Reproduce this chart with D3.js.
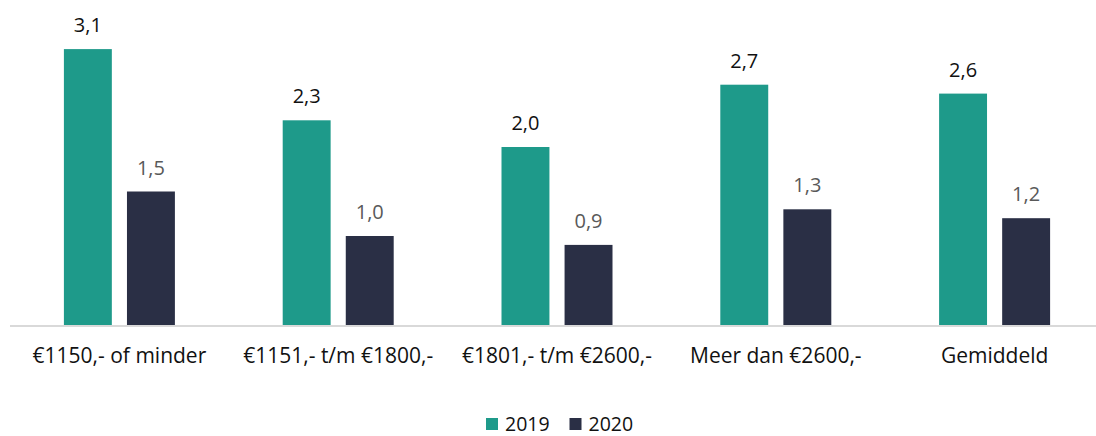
<!DOCTYPE html>
<html>
<head>
<meta charset="utf-8">
<script src="https://cdn.jsdelivr.net/npm/d3@7"></script>
<style>
  body { margin: 0; background: #fff; }
  text { font-family: "Open Sans", sans-serif; }
</style>
</head>
<body>
<div id="chart"></div>
<script>
// Chart data
var categories = ["€1150,- of minder", "€1151,- t/m €1800,-", "€1801,- t/m €2600,-", "Meer dan €2600,-", "Gemiddeld"];
var series = ["2019", "2020"];
var values2019 = [3.1, 2.3, 2.0, 2.7, 2.6];
var values2020 = [1.5, 1.0, 0.9, 1.3, 1.2];

var colors = { "2019": "#1e9a8a", "2020": "#2a2f45" };
var labelColors = { "2019": "#111", "2020": "#595959" };

var w = 1096;
var h = 436;
var base = 325;

var svg = d3.select("#chart")
  .append("svg")
  .attr("width", w)
  .attr("height", h);

var xScale = d3.scaleBand()
  .domain(categories)
  .range([10, 1104]);

var xInner = d3.scaleBand()
  .domain(series)
  .range([0, 111])
  .paddingInner(0.24);

var yScale = d3.scaleLinear()
  .domain([0, 3.5])
  .range([base, base - 3.5 * 89]);

var fmt = function(v) { return d3.format(".1f")(v).replace(".", ","); };

var data = categories.map(function(c, i) {
  return { cat: c, vals: [
    { s: "2019", v: values2019[i] },
    { s: "2020", v: values2020[i] }
  ] };
});

var groups = svg.selectAll("g.group")
  .data(data)
  .enter().append("g")
  .attr("class", "group")
  .attr("transform", function(d) {
    return "translate(" + (xScale(d.cat) + xScale.bandwidth() / 2 - 55.5) + ",0)";
  });

groups.selectAll("rect")
  .data(function(d) { return d.vals; })
  .enter().append("rect")
  .attr("x", function(d) { return xInner(d.s); })
  .attr("y", function(d) { return yScale(d.v); })
  .attr("width", xInner.bandwidth())
  .attr("height", function(d) { return base - yScale(d.v); })
  .attr("fill", function(d) { return colors[d.s]; });

groups.selectAll("text.val")
  .data(function(d) { return d.vals; })
  .enter().append("text")
  .attr("class", "val")
  .attr("x", function(d) { return xInner(d.s) + xInner.bandwidth() / 2; })
  .attr("y", function(d) { return yScale(d.v) - 17; })
  .attr("text-anchor", "middle")
  .attr("font-size", 20)
  .attr("fill", function(d) { return labelColors[d.s]; })
  .text(function(d) { return fmt(d.v); });

// x axis
var xAxis = d3.axisBottom(xScale).tickSize(0).tickPadding(23);
var gx = svg.append("g")
  .attr("transform", "translate(0," + base + ")")
  .call(xAxis);
gx.select(".domain").remove();
gx.selectAll("text")
  .attr("font-size", 21)
  .attr("fill", "#111")
  .style("font-family", "'Open Sans', sans-serif");

svg.append("line")
  .attr("x1", 10).attr("x2", w)
  .attr("y1", base + 1).attr("y2", base + 1)
  .attr("stroke", "#d9d9d9")
  .attr("stroke-width", 2);

// Legend
var legend = svg.append("g").attr("transform", "translate(486,418)");
var items = legend.selectAll("g")
  .data(series)
  .enter().append("g")
  .attr("transform", function(d, i) { return "translate(" + (i * 83.5) + ",0)"; });
items.append("rect")
  .attr("width", 12).attr("height", 12)
  .attr("fill", function(d) { return colors[d]; });
items.append("text")
  .attr("x", 19).attr("y", 12.5)
  .attr("font-size", 19.5)
  .attr("fill", "#111")
  .text(function(d) { return d; });
</script>
</body>
</html>
